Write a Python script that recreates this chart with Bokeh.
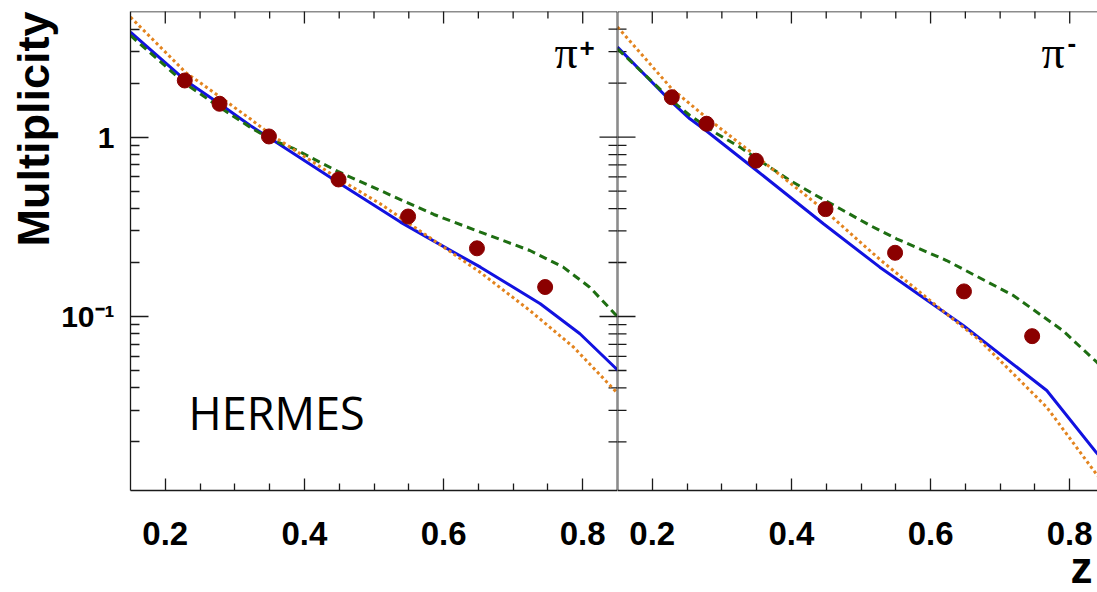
import numpy as np
from bokeh.plotting import figure
from bokeh.layouts import row
from bokeh.models import FixedTicker, Label, Span, Title
from bokeh.embed import file_html
from bokeh.resources import INLINE

# ---------------- data ----------------
z_data = [0.228, 0.278, 0.349, 0.449, 0.549, 0.648, 0.746]
mult_pip = [2.07, 1.535, 1.009, 0.581, 0.361, 0.240, 0.146]
mult_pim = [1.67, 1.188, 0.739, 0.397, 0.2266, 0.138, 0.0777]

# pi+ curves
pip_blue_z = [0.150, 0.229, 0.278, 0.322, 0.350, 0.448, 0.538, 0.581, 0.653, 0.739, 0.796, 0.846, 0.850]
pip_blue_m = [3.85, 2.07, 1.536, 1.162, 0.990, 0.561, 0.336, 0.270, 0.1884, 0.1177, 0.0801, 0.0521, 0.0503]
pip_orange_z = [0.150, 0.229, 0.279, 0.322, 0.350, 0.448, 0.509, 0.581, 0.653, 0.724, 0.787, 0.844, 0.850]
pip_orange_m = [4.67, 2.30, 1.671, 1.266, 1.045, 0.590, 0.425, 0.274, 0.176, 0.108, 0.0674, 0.0395, 0.0374]
pip_green_z = [0.150, 0.229, 0.278, 0.322, 0.350, 0.385, 0.448, 0.538, 0.586, 0.653, 0.724, 0.772, 0.810, 0.844, 0.850]
pip_green_m = [3.69, 1.986, 1.470, 1.137, 0.980, 0.862, 0.644, 0.449, 0.3706, 0.2953, 0.2334, 0.1884, 0.1457, 0.1057, 0.0998]

# pi- curves
pim_blue_z = [0.150, 0.228, 0.254, 0.277, 0.350, 0.446, 0.527, 0.647, 0.767, 0.838, 0.850]
pim_blue_m = [3.18, 1.567, 1.266, 1.090, 0.652, 0.329, 0.1884, 0.0891, 0.0387, 0.0175, 0.0154]
pim_orange_z = [0.150, 0.228, 0.277, 0.350, 0.448, 0.527, 0.623, 0.671, 0.767, 0.838, 0.850]
pim_orange_m = [4.11, 1.862, 1.293, 0.780, 0.390, 0.208, 0.1033, 0.0735, 0.0312, 0.01327, 0.01156]
pim_green_z = [0.150, 0.228, 0.254, 0.293, 0.326, 0.365, 0.398, 0.431, 0.470, 0.513, 0.551, 0.623, 0.719, 0.790, 0.839, 0.850]
pim_green_m = [3.11, 1.602, 1.321, 1.045, 0.880, 0.695, 0.5735, 0.4834, 0.3988, 0.3218, 0.2713, 0.2052, 0.1310, 0.0835, 0.0556, 0.0504]

x_ticks = [0.2, 0.4, 0.6, 0.8]
x_minor = [0.25, 0.3, 0.35, 0.45, 0.5, 0.55, 0.65, 0.7, 0.75]
y_ticks = [0.1, 1]
y_minor = [0.02, 0.03, 0.04, 0.05, 0.06, 0.07, 0.08, 0.09,
           0.2, 0.3, 0.4, 0.5, 0.6, 0.7, 0.8, 0.9, 2, 3, 4]
y_tick_labels = {0.1: "10⁻¹", 1: "1"}

X_MIN, X_MAX = 0.15, 0.85
Y_MIN, Y_MAX = 0.01071, 5.02

FONT = "Liberation Sans"
AX = "#1a1a1a"
BLUE = "#1212e0"
GREEN = "#1e6e12"
ORANGE = "#e3841f"
RED = "#8b0000"
LW = 1.3


def style_axis(ax, ticks, minor, tin, min_in):
    ax.ticker = FixedTicker(ticks=ticks, minor_ticks=minor)
    ax.axis_line_color = AX
    ax.axis_line_width = LW
    ax.major_tick_line_color = AX
    ax.minor_tick_line_color = AX
    ax.major_tick_line_width = LW
    ax.minor_tick_line_width = LW
    ax.major_tick_in = tin
    ax.major_tick_out = 0
    ax.minor_tick_in = min_in
    ax.minor_tick_out = 0
    ax.major_label_text_font = FONT
    ax.major_label_text_font_style = "bold"
    ax.major_label_text_color = "black"


def edge_ticks(p, x, y, size, angle):
    p.scatter(x, y, marker="dash", size=size, angle=angle,
              line_color=AX, line_width=LW)


def make_panel(frame_w, x_end, left_border, first):
    p = figure(x_range=(X_MIN, x_end), y_range=(Y_MIN, Y_MAX), y_axis_type="log",
               frame_width=frame_w, frame_height=479,
               min_border_left=left_border, min_border_right=0,
               min_border_top=11, min_border_bottom=102,
               output_backend="svg", toolbar_location=None)
    p.xgrid.visible = False
    p.ygrid.visible = False
    p.outline_line_color = None
    p.background_fill_color = "white"
    p.border_fill_color = "white"

    bx = p.xaxis[0]
    style_axis(bx, x_ticks, x_minor, 12, 7)
    bx.major_label_text_font_size = "33px"
    bx.major_label_standoff = 31

    if first:
        ly = p.yaxis[0]
        style_axis(ly, y_ticks, y_minor, 18, 9)
        ly.major_label_text_font_size = "30px"
        ly.major_label_standoff = 16
        ly.major_label_overrides = y_tick_labels
    else:
        p.yaxis.visible = False
        p.add_layout(Span(location=X_MIN, dimension="height", line_color=AX, line_width=1.8))
        edge_ticks(p, [X_MIN] * len(y_ticks), y_ticks, 36, 0)
        edge_ticks(p, [X_MIN] * len(y_minor), y_minor, 18, 0)

    # top frame line + inward ticks
    p.add_layout(Span(location=Y_MAX, dimension="width", line_color=AX, line_width=LW))
    edge_ticks(p, x_ticks, [Y_MAX] * len(x_ticks), 24, np.pi / 2)
    edge_ticks(p, x_minor, [Y_MAX] * len(x_minor), 14, np.pi / 2)

    if first:
        p.add_layout(Span(location=x_end, dimension="height", line_color=AX, line_width=1.8))
        edge_ticks(p, [x_end] * len(y_ticks), y_ticks, 36, 0)
        edge_ticks(p, [x_end] * len(y_minor), y_minor, 18, 0)
    return p


p1 = make_panel(487, X_MAX, 130, True)
x_end2 = X_MIN + 480 * (X_MAX - X_MIN) / 487.0
p2 = make_panel(480, x_end2, 0, False)

for p, zc in ((p1, (pip_blue_z, pip_blue_m, pip_green_z, pip_green_m, pip_orange_z, pip_orange_m, mult_pip)),
              (p2, (pim_blue_z, pim_blue_m, pim_green_z, pim_green_m, pim_orange_z, pim_orange_m, mult_pim))):
    bz, bm, gz, gm, oz, om, pts = zc
    p.line(bz, bm, line_color=BLUE, line_width=3)
    p.line(gz, gm, line_color=GREEN, line_width=3, line_dash="8 5")
    p.line(oz, om, line_color=ORANGE, line_width=3, line_dash="3 3")
    p.scatter(z_data, pts, size=15, fill_color=RED, line_color=RED)

# axis titles (ROOT style: aligned to the end of the axis)
p1.add_layout(Title(text="Multiplicity", align="right", vertical_align="bottom",
                    offset=0, standoff=0, text_font=FONT, text_font_style="bold",
                    text_font_size="45px", text_color="black"), "left")
p2.add_layout(Title(text="z", align="left", vertical_align="bottom",
                    offset=453, standoff=-14, text_font=FONT, text_font_style="bold",
                    text_font_size="44px", text_color="black"), "below")

# in-frame texts
p1.add_layout(Label(x=58, y=78, x_units="screen", y_units="screen", text="HERMES",
                    text_align="left", text_baseline="alphabetic",
                    text_font="Open Sans", text_font_size="45px", text_color="black"))
for p in (p1, p2):
    p.add_layout(Label(x=424, y=438, x_units="screen", y_units="screen", text="π",
                       text_align="left", text_baseline="alphabetic",
                       text_font="Liberation Serif", text_font_size="46px", text_color="black"))
p1.add_layout(Label(x=449, y=443, x_units="screen", y_units="screen", text="+",
                    text_align="left", text_baseline="middle",
                    text_font=FONT, text_font_style="bold", text_font_size="26px",
                    text_color="black"))
p2.add_layout(Label(x=450, y=448, x_units="screen", y_units="screen", text="-",
                    text_align="left", text_baseline="middle",
                    text_font=FONT, text_font_style="bold", text_font_size="26px",
                    text_color="black"))

layout = row(p1, p2)
open("out.html", "w").write(file_html(layout, INLINE))
